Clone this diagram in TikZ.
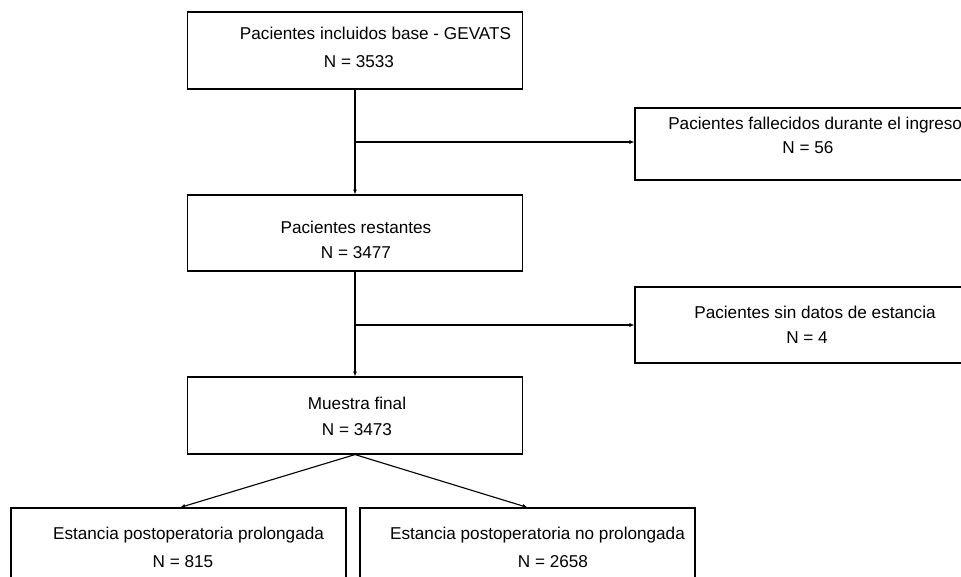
\documentclass[tikz,border=0pt]{standalone}
\usepackage{fontspec}
\setmainfont{Liberation Sans}
\usetikzlibrary{arrows.meta,positioning}

\begin{document}
\begin{tikzpicture}[x=0.025cm,y=-0.025cm,
  font=\fontsize{12.2}{14}\selectfont,
  caja/.style={draw,line width=0.8pt,minimum width=8.375cm,inner sep=0pt},
  lateral/.style={caja,minimum width=8.75cm},
  flecha/.style={line width=0.8pt,-{Latex[length=3.5pt,width=3pt]}}]
  \useasboundingbox (0,0) rectangle (961,577);
  % cajas principales
  \node[caja,minimum height=1.925cm] (base) at (355,50.5) {};
  \node[caja,minimum height=1.9cm] (restantes) at (355,233) {};
  \node[caja,minimum height=1.925cm] (final) at (355,415.5) {};
  \node[lateral,minimum height=1.8cm] (fallecidos) at (810,144) {};
  \node[lateral,minimum height=1.9cm] (sindatos) at (810,325) {};
  \node[caja,minimum height=2cm] (prolong) at (178.5,548) {};
  \node[caja,minimum height=2cm] (noprolong) at (527.5,548) {};
  % textos
  \node (tbase) at (375.5,33) {Pacientes incluidos base - GEVATS};
  \node (nbase) at (359,62) {N = 3533};
  \node (trest) at (356,227) {Pacientes restantes};
  \node (nrest) at (356,253) {N = 3477};
  \node (tfinal) at (357,403) {Muestra final};
  \node (nfinal) at (357,430) {N = 3473};
  \node[anchor=west,inner sep=0pt] (tfall) at (668,125) {Pacientes fallecidos durante el ingreso};
  \node (nfall) at (808,148) {N = 56};
  \node (tsin) at (815,312) {Pacientes sin datos de estancia};
  \node (nsin) at (807,338) {N = 4};
  \node (tprol) at (188.5,535) {Estancia postoperatoria prolongada};
  \node (nprol) at (183,562) {N = 815};
  \node (tnoprol) at (537.5,535) {Estancia postoperatoria no prolongada};
  \node (nnoprol) at (553,562) {N = 2658};
  % conectores
  \coordinate (b1) at (base.south |- 0,142);
  \coordinate (b2) at (restantes.south |- sindatos.west);
  \draw[flecha] (base.south) -- (restantes.north);
  \draw[flecha] (b1) -- (b1 -| fallecidos.west);
  \draw[flecha] (restantes.south) -- (final.north);
  \draw[flecha] (b2) -- (sindatos.west);
  \draw[flecha] (final.south) -- ([xshift=1.5\pgflinewidth]prolong.north);
  \draw[flecha] (final.south) -- (noprolong.north);
\end{tikzpicture}
\end{document}
